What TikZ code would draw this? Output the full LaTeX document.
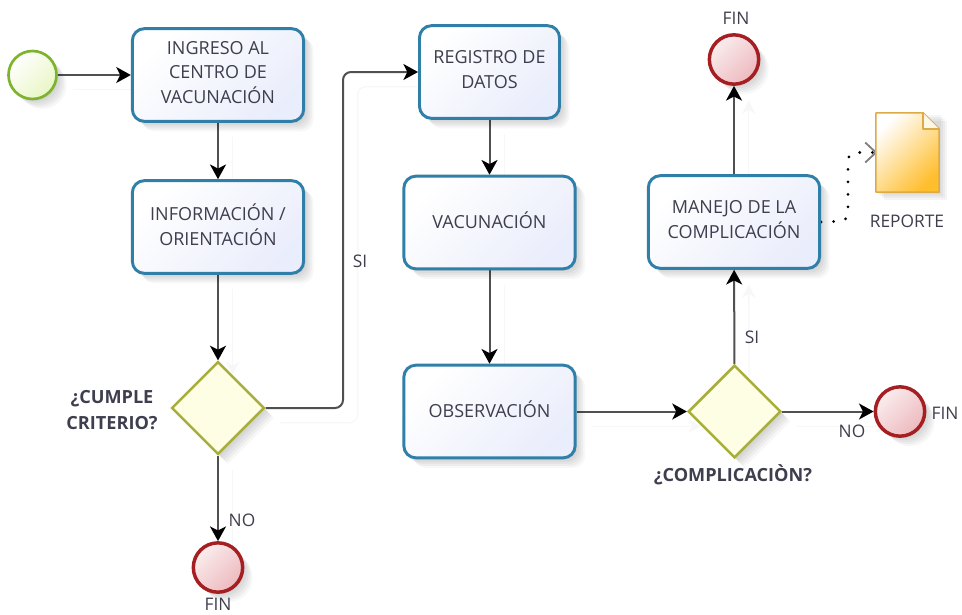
\documentclass[tikz,border=0pt]{standalone}
\usepackage{fontspec}
\setmainfont{Open Sans}
\usetikzlibrary{shapes.geometric,arrows.meta,shadows,backgrounds}
\definecolor{boxline}{HTML}{2F7FA8}
\definecolor{boxfill}{HTML}{EAEDFB}
\definecolor{txt}{HTML}{3E3E4E}
\definecolor{conline}{HTML}{505050}
\definecolor{startline}{HTML}{7DB32E}
\definecolor{startfill}{HTML}{E8F6C4}
\definecolor{endline}{HTML}{A51E22}
\definecolor{endfilla}{HTML}{FAEDEE}
\definecolor{endfillb}{HTML}{EDB9BE}
\definecolor{gateline}{HTML}{A8AE3C}
\definecolor{gatefill}{HTML}{FEFEE4}
\definecolor{docline}{HTML}{DDAA48}
\definecolor{docfill}{HTML}{FFBE2E}
\tikzset{
  softshadow/.style={
    general shadow={fill=black,opacity=.04,shadow xshift=1.5pt,shadow yshift=-1.5pt},
    general shadow={fill=black,opacity=.04,shadow xshift=3pt,shadow yshift=-3pt},
    general shadow={fill=black,opacity=.04,shadow xshift=4.5pt,shadow yshift=-4.5pt},
    general shadow={fill=black,opacity=.04,shadow xshift=6pt,shadow yshift=-6pt},
    general shadow={fill=black,opacity=.03,shadow xshift=7.5pt,shadow yshift=-7.5pt},
  },
  taskbox/.style={softshadow,draw=boxline,line width=2.2pt,rounded corners=9pt,
    left color=white,right color=boxfill,shading angle=45,text depth=4pt,
    minimum width=128.5pt,minimum height=69.5pt,inner sep=2pt,align=center,text=txt,font=\fontsize{13.5}{18.5}\selectfont},
  startev/.style={softshadow,circle,draw=startline,line width=2pt,
    left color=white,right color=startfill,shading angle=45,
    minimum size=36pt,inner sep=0pt},
  endev/.style={softshadow,circle,draw=endline,line width=2.6pt,
    left color=endfilla,right color=endfillb,shading angle=45,
    minimum size=37pt,inner sep=0pt},
  gate/.style={softshadow,diamond,aspect=1,draw=gateline,line width=1.9pt,
    fill=gatefill,minimum size=69.5pt,inner sep=0pt},
  lab/.style={text=txt,font=\fontsize{13}{18}\selectfont,inner sep=0pt,align=center},
  blab/.style={lab,font=\fontsize{13.6}{19}\selectfont\bfseries},
  conn/.style={draw=conline,line width=1.5pt,-{Stealth[length=11pt,width=12pt,inset=3pt,black]},
    preaction={draw=black!3,line width=1pt,transform canvas={xshift=11pt,yshift=-11pt},-{Stealth[length=10pt,width=10pt,inset=3pt,black!3]}}},
}
\begin{document}
\begin{tikzpicture}[x=.75pt,y=-.75pt]
\useasboundingbox (0,0) rectangle (962,614);
\node[startev] (start) at (32.5,75) {};
\node[taskbox] (b1) at (218,75) {INGRESO AL\\CENTRO DE\\VACUNACIÓN};
\node[taskbox] (b2) at (218,227) {INFORMACIÓN /\\ORIENTACIÓN};
\node[gate] (g1) at (218,408) {};
\node[endev] (e1) at (218,567.5) {};
\node[taskbox,minimum width=105pt] (b3) at (489.5,72) {REGISTRO DE\\DATOS};
\node[taskbox] (b4) at (489.5,222.5) {VACUNACIÓN};
\node[taskbox] (b5) at (489.5,411.5) {OBSERVACIÓN};
\node[gate] (g2) at (734.5,411.5) {};
\node[endev] (e2) at (900,411.5) {};
\node[taskbox] (b6) at (734,222) {MANEJO DE LA\\COMPLICACIÓN};
\node[endev] (e3) at (734,59.5) {};
\node[minimum width=47pt,minimum height=59pt,inner sep=0pt] (doc) at (907.5,152.5) {};
\begin{scope}
  \foreach \s in {1.5,3,4.5,6}
    \fill[black,opacity=.04] ([xshift=\s pt,yshift=-\s pt]doc.north west) rectangle ([xshift=\s pt,yshift=-\s pt]doc.south east);
  \draw[draw=docline,line width=1.2pt,left color=white,right color=docfill,shading angle=45,line join=round]
    (doc.north west) -- ([xshift=-12pt]doc.north east) -- ([yshift=-12pt]doc.north east) -- (doc.south east) -- (doc.south west) -- cycle;
  \fill[docfill!12] ([xshift=-12pt]doc.north east) -- ([yshift=-12pt]doc.north east) -- ([xshift=-12pt,yshift=-12pt]doc.north east) -- cycle;
  \draw[draw=docline,line width=1.2pt,line join=round]
    ([xshift=-12pt]doc.north east) -- ([xshift=-12pt,yshift=-12pt]doc.north east) -- ([yshift=-12pt]doc.north east);
\end{scope}
\node[lab] (lfin1) at (218,604) {FIN};
\node[lab] (lno1) at (242,520) {NO};
\node[blab] (lq1) at (112,410) {¿CUMPLE\\CRITERIO?};
\node[lab] (lsi1) at (360,261) {SI};
\node[lab] (lfin2) at (945,413) {FIN};
\node[lab] (lno2) at (852,431) {NO};
\node[lab] (lsi2) at (752,337) {SI};
\node[blab] (lq2) at (733,475) {¿COMPLICACIÒN?};
\node[lab] (lfin3) at (736,18) {FIN};
\node[lab] (lrep) at (907,221) {REPORTE};
\coordinate (c1) at (343,408);
\coordinate (c2) at (343,72);
\coordinate (c3) at (848,221);
\coordinate (c4) at (848,152.5);
\begin{scope}[on background layer]
  \path[conn] (start) -- (b1);
  \path[conn] (b1) -- (b2);
  \path[conn] (b2) -- (g1);
  \path[conn] (g1) -- (e1);
  \path[conn,rounded corners=6pt] (g1.east) -- (c1) -- (c2) -- (b3.west);
  \path[conn] (b3) -- (b3 |- b4.north);
  \path[conn] (b4) -- (b5);
  \path[conn] (b5) -- (g2);
  \path[conn] (g2) -- (e2);
  \path[conn] (g2) -- (b6);
  \path[conn] (b6) -- (e3);
  \draw[black,line width=2.3pt,line cap=round,dash pattern=on 0pt off 9.4pt,rounded corners=6pt] (b6.east) -- (c3) -- (c4) -- (doc.west);
  \draw[black!50,line width=1.4pt] ([xshift=-8pt,yshift=7.5pt]doc.west) -- (doc.west) -- ([xshift=-8pt,yshift=-7.5pt]doc.west);
\end{scope}
\end{tikzpicture}
\end{document}
